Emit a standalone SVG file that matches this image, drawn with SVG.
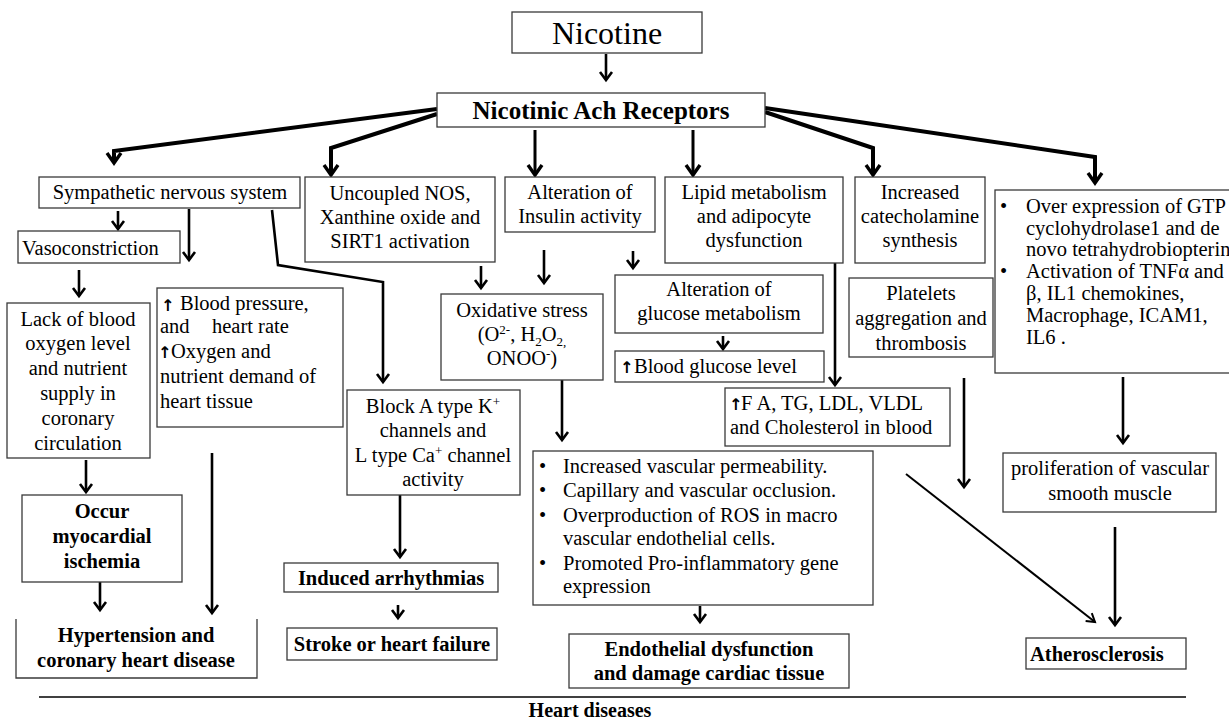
<svg xmlns="http://www.w3.org/2000/svg" width="1229" height="722" viewBox="0 0 1229 722">
<style>
.bx{fill:#fff;stroke:#3a3a3a;stroke-width:1.3}
.t{font-family:"Liberation Serif","Times New Roman",serif;font-size:20.5px;fill:#000}
.c{text-anchor:middle}
.b{font-weight:bold}
.up{font-family:"DejaVu Sans",sans-serif;font-weight:bold;font-size:16px}
.cn path{fill:none;stroke:#000;stroke-width:2.6}
.cn .thick{stroke-width:4}
.cn .thin{stroke-width:2}
</style>
<defs>
<marker id="ah" markerUnits="userSpaceOnUse" markerWidth="14" markerHeight="16" viewBox="0 0 14 16" refX="11" refY="8" orient="auto">
<path d="M3,2 L11,8 L3,14" fill="none" stroke="#000" stroke-width="2.6"/>
</marker>
<marker id="ahb" markerUnits="userSpaceOnUse" markerWidth="16" markerHeight="18" viewBox="0 0 16 18" refX="13" refY="9" orient="auto">
<path d="M3,2 L13,9 L3,16" fill="none" stroke="#000" stroke-width="3.4"/>
</marker>
<marker id="ahs" markerUnits="userSpaceOnUse" markerWidth="14" markerHeight="14" viewBox="0 0 14 14" refX="11" refY="7" orient="auto">
<path d="M3,2 L11,7 L3,12" fill="none" stroke="#000" stroke-width="2"/>
</marker>
</defs>
<rect width="1229" height="722" fill="#fff"/>

<g id="connectors" class="cn">
<path d="M606,54 V80" marker-end="url(#ah)"/>
<path class="thick" d="M437,109 L114,151 V163" marker-end="url(#ahb)"/>
<path class="thick" d="M437,114 L331,148 V175" marker-end="url(#ahb)"/>
<path d="M535,130 V175" marker-end="url(#ahb)" style="stroke-width:3"/>
<path d="M693,130 V175" marker-end="url(#ahb)" style="stroke-width:3"/>
<path class="thick" d="M765,112 L873,148 V175" marker-end="url(#ahb)"/>
<path class="thick" d="M765,108 L1095,157 V183" marker-end="url(#ahb)"/>
<path d="M118,211 V229" marker-end="url(#ah)"/>
<path d="M189,209 V260" marker-end="url(#ah)"/>
<path d="M272,210 L278,265 L383,282 V382" marker-end="url(#ah)"/>
<path d="M79,270 V296" marker-end="url(#ah)"/>
<path d="M481,266 V288" marker-end="url(#ah)"/>
<path d="M544,250 V283" marker-end="url(#ah)"/>
<path d="M633,251 V268" marker-end="url(#ah)"/>
<path d="M723,336 V349" marker-end="url(#ah)"/>
<path d="M835,263 V385" marker-end="url(#ah)"/>
<path d="M964,378 V487" marker-end="url(#ah)"/>
<path d="M1123,377 V443" marker-end="url(#ah)"/>
<path d="M1115,527 V625" marker-end="url(#ah)"/>
<path class="thin" d="M906,474 L1095,622" marker-end="url(#ahs)"/>
<path d="M562,380 V440" marker-end="url(#ah)"/>
<path d="M700,606 V622" marker-end="url(#ah)"/>
<path d="M86,460 V492" marker-end="url(#ah)"/>
<path d="M100,582 V610" marker-end="url(#ah)"/>
<path d="M212,453 V613" marker-end="url(#ah)"/>
<path d="M400,495 V557" marker-end="url(#ah)"/>
<path d="M398,605 V618" marker-end="url(#ah)"/>
<path d="M39,697 H1186" style="stroke-width:1.4"/>
</g>

<g id="nicotine"><rect class="bx" x="512" y="12" width="190" height="41"/><text class="t c" x="607" y="44" style="font-size:32px">Nicotine</text></g>
<g id="receptors"><rect class="bx" x="437" y="93" width="328" height="34"/><text class="t c b" x="601" y="119" style="font-size:25px">Nicotinic Ach Receptors</text></g>

<g id="sympathetic"><rect class="bx" x="39" y="177" width="261" height="31"/><text class="t c" x="170" y="199">Sympathetic nervous system</text></g>
<g id="uncoupled"><rect class="bx" x="305" y="177" width="190" height="85"/><text class="t c" x="400" y="200">Uncoupled NOS,<tspan x="400" y="224">Xanthine oxide and</tspan><tspan x="400" y="248">SIRT1 activation</tspan></text></g>
<g id="insulin"><rect class="bx" x="505" y="177" width="150" height="55"/><text class="t c" x="580" y="199">Alteration of<tspan x="580" y="223">Insulin activity</tspan></text></g>
<g id="lipid"><rect class="bx" x="665" y="177" width="178" height="86"/><text class="t c" x="754" y="199">Lipid metabolism<tspan x="754" y="223">and adipocyte</tspan><tspan x="754" y="247">dysfunction</tspan></text></g>
<g id="catecholamine"><rect class="bx" x="855" y="177" width="130" height="86"/><text class="t c" x="920" y="199">Increased<tspan x="920" y="223">catecholamine</tspan><tspan x="920" y="247">synthesis</tspan></text></g>
<g id="overexpression"><rect class="bx" x="995" y="190" width="260" height="183"/>
<text class="t" x="1000" y="213">•</text><text class="t" x="1000" y="278">•</text>
<text class="t" x="1026" y="213" style="font-size:20.5px">Over expression of GTP<tspan x="1026" y="235">cyclohydrolase1  and  de</tspan><tspan x="1026" y="256">novo tetrahydrobiopterin</tspan><tspan x="1026" y="278">Activation  of TNFα and</tspan><tspan x="1026" y="300">β, IL1 chemokines,</tspan><tspan x="1026" y="322">Macrophage, ICAM1,</tspan><tspan x="1026" y="344">IL6 .</tspan></text></g>

<g id="vasoconstriction"><rect class="bx" x="18" y="231" width="162" height="32"/><text class="t" x="22" y="255">Vasoconstriction</text></g>
<g id="lackoxygen"><rect class="bx" x="7" y="303" width="143" height="155"/><text class="t c" x="78" y="326">Lack of blood<tspan x="78" y="350">oxygen level</tspan><tspan x="78" y="375">and nutrient</tspan><tspan x="78" y="400">supply in</tspan><tspan x="78" y="425">coronary</tspan><tspan x="78" y="450">circulation</tspan></text></g>
<g id="bloodpressure"><rect class="bx" x="157" y="288" width="186" height="139"/>
<text class="up" x="161" y="311">↑</text><text class="t" x="180" y="310">Blood pressure,</text>
<text class="t" x="160" y="333">and<tspan x="212">heart rate</tspan></text>
<text class="up" x="158" y="358">↑</text><text class="t" x="171" y="358">Oxygen and</text>
<text class="t" x="160" y="383">nutrient  demand of</text>
<text class="t" x="160" y="408">heart tissue</text></g>
<g id="blockchannels"><rect class="bx" x="347" y="390" width="173" height="105"/><text class="t c" x="433" y="413">Block A type K<tspan dy="-7" style="font-size:13px">+</tspan><tspan x="433" y="437">channels and</tspan><tspan x="433" y="462">L type Ca</tspan><tspan dy="-7" style="font-size:13px">+</tspan><tspan dy="7"> channel</tspan><tspan x="433" y="486">activity</tspan></text></g>
<g id="oxidative"><rect class="bx" x="441" y="294" width="162" height="86"/><text class="t c" x="522" y="317">Oxidative stress<tspan x="522" y="341">(O</tspan><tspan dy="-7" style="font-size:13px">2-</tspan><tspan dy="7">, H</tspan><tspan dy="5" style="font-size:13px">2</tspan><tspan dy="-5">O</tspan><tspan dy="5" style="font-size:13px">2,</tspan><tspan x="522" y="365">ONOO</tspan><tspan dy="-7" style="font-size:13px">-</tspan><tspan dy="7">)</tspan></text></g>
<g id="glucosemetabolism"><rect class="bx" x="615" y="275" width="208" height="58"/><text class="t c" x="719" y="296">Alteration of<tspan x="719" y="320">glucose metabolism</tspan></text></g>
<g id="bloodglucose"><rect class="bx" x="615" y="351" width="209" height="31"/><text class="up" x="620" y="373">↑</text><text class="t" x="634" y="373">Blood glucose level</text></g>
<g id="lipidsblood"><rect class="bx" x="725" y="388" width="225" height="58"/><text class="up" x="729" y="410">↑</text><text class="t" x="741" y="410">F A, TG, LDL, VLDL</text><text class="t" x="730" y="434">and Cholesterol in blood</text></g>
<g id="platelets"><rect class="bx" x="849" y="278" width="144" height="79"/><text class="t c" x="921" y="300">Platelets<tspan x="921" y="325">aggregation and</tspan><tspan x="921" y="350">thrombosis</tspan></text></g>
<g id="proliferation"><rect class="bx" x="1003" y="453" width="213" height="59"/><text class="t c" x="1110" y="475">proliferation of vascular<tspan x="1110" y="500">smooth muscle</tspan></text></g>
<g id="atherosclerosis"><rect class="bx" x="1026" y="638" width="160" height="31"/><text class="t b" x="1030" y="661">Atherosclerosis</text></g>
<g id="vasculareffects"><rect class="bx" x="533" y="451" width="340" height="154"/>
<text class="t" x="539" y="473">•</text><text class="t" x="539" y="497">•</text><text class="t" x="539" y="522">•</text><text class="t" x="539" y="570">•</text>
<text class="t" x="563" y="473">Increased vascular permeability.<tspan x="563" y="497">Capillary and vascular occlusion.</tspan><tspan x="563" y="522">Overproduction of ROS in macro</tspan><tspan x="563" y="545">vascular endothelial cells.</tspan><tspan x="563" y="570">Promoted Pro-inflammatory  gene</tspan><tspan x="563" y="593">expression</tspan></text></g>
<g id="endothelial"><rect class="bx" x="569" y="634" width="280" height="54"/><text class="t c b" x="709" y="656">Endothelial  dysfunction<tspan x="709" y="680">and damage cardiac tissue</tspan></text></g>
<g id="ischemia"><rect class="bx" x="22" y="495" width="160" height="87"/><text class="t c b" x="102" y="518">Occur<tspan x="102" y="543">myocardial</tspan><tspan x="102" y="568">ischemia</tspan></text></g>
<g id="hypertension"><path class="bx" d="M16,619 V678 H257 V619" fill="none"/><text class="t c b" x="136" y="642">Hypertension and<tspan x="136" y="667">coronary heart disease</tspan></text></g>
<g id="arrhythmias"><rect class="bx" x="284" y="563" width="214" height="29"/><text class="t c b" x="391" y="585">Induced arrhythmias</text></g>
<g id="stroke"><rect class="bx" x="287" y="628" width="210" height="32"/><text class="t c b" x="392" y="651">Stroke or heart failure</text></g>
<g id="heartdiseases"><text class="t c b" x="590" y="717" style="font-size:20px">Heart diseases</text></g>
</svg>
